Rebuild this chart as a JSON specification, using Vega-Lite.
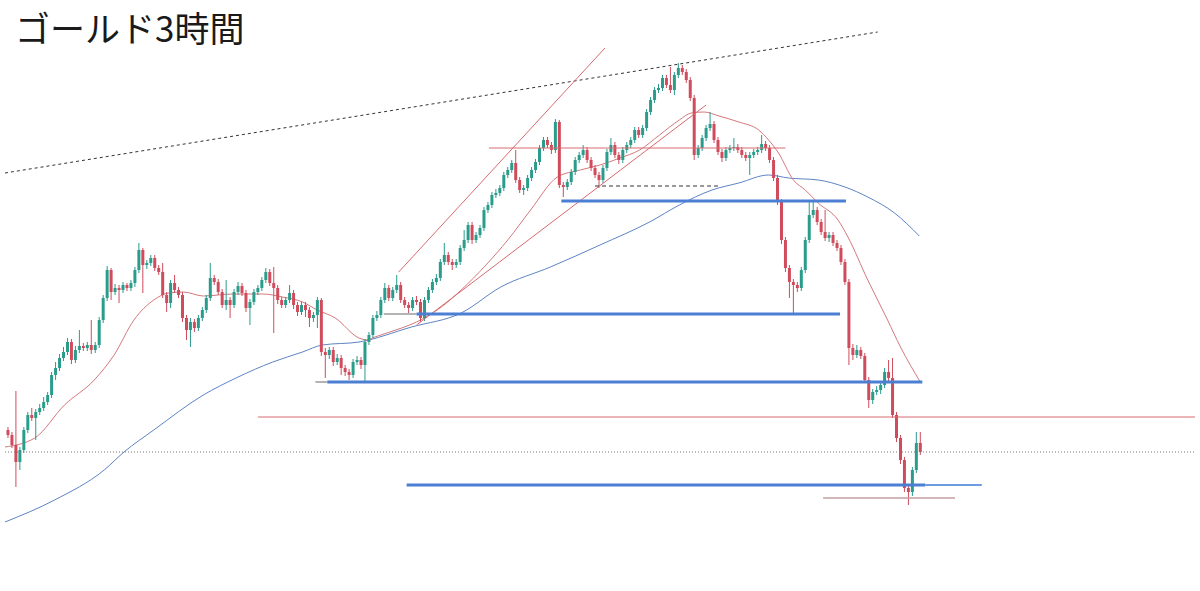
{
"$schema": "https://vega.github.io/schema/vega-lite/v6.json",
"width": 1200, "height": 591,
"autosize": {"type": "fit", "contains": "padding"},
"padding": 0,
"background": "#ffffff",
"config": {"view": {"stroke": null}},
"title": {"text": "ゴールド3時間", "anchor": "start", "orient": "top", "frame": "group", "offset": -49, "dx": 15, "fontSize": 35, "font": "Noto Sans CJK JP", "fontWeight": "normal", "color": "#1a1a1a"},
"datasets": {
"candles": [
{"t":0,"o":170,"c":165,"h":173,"l":162},{"t":1,"o":165,"c":155,"h":168,"l":152},{"t":2,"o":155,"c":138,"h":209,"l":113},{"t":3,"o":138,"c":150,"h":153,"l":130},{"t":4,"o":150,"c":170,"h":173,"l":147},{"t":5,"o":170,"c":185,"h":188,"l":167},{"t":6,"o":185,"c":182,"h":192,"l":179},{"t":7,"o":182,"c":188,"h":191,"l":160},{"t":8,"o":188,"c":192,"h":196,"l":185},{"t":9,"o":192,"c":198,"h":203,"l":189},
{"t":10,"o":198,"c":205,"h":208,"l":195},{"t":11,"o":205,"c":225,"h":228,"l":202},{"t":12,"o":225,"c":232,"h":238,"l":220},{"t":13,"o":232,"c":242,"h":246,"l":229},{"t":14,"o":242,"c":248,"h":253,"l":239},{"t":15,"o":248,"c":258,"h":262,"l":245},{"t":16,"o":258,"c":240,"h":261,"l":236},{"t":17,"o":240,"c":250,"h":254,"l":237},{"t":18,"o":250,"c":254,"h":270,"l":247},{"t":19,"o":254,"c":252,"h":257,"l":249},
{"t":20,"o":252,"c":255,"h":258,"l":249},{"t":21,"o":255,"c":250,"h":280,"l":246},{"t":22,"o":250,"c":255,"h":258,"l":247},{"t":23,"o":255,"c":280,"h":283,"l":252},{"t":24,"o":280,"c":302,"h":305,"l":277},{"t":25,"o":302,"c":330,"h":334,"l":299},{"t":26,"o":330,"c":308,"h":332,"l":300},{"t":27,"o":308,"c":312,"h":316,"l":305},{"t":28,"o":312,"c":310,"h":315,"l":297},{"t":29,"o":310,"c":315,"h":318,"l":307},
{"t":30,"o":315,"c":312,"h":317,"l":309},{"t":31,"o":312,"c":317,"h":320,"l":309},{"t":32,"o":317,"c":330,"h":333,"l":313},{"t":33,"o":330,"c":350,"h":357,"l":327},{"t":34,"o":350,"c":335,"h":352,"l":307},{"t":35,"o":335,"c":337,"h":340,"l":331},{"t":36,"o":337,"c":342,"h":345,"l":334},{"t":37,"o":342,"c":332,"h":345,"l":329},{"t":38,"o":332,"c":328,"h":335,"l":325},{"t":39,"o":328,"c":305,"h":337,"l":302},
{"t":40,"o":305,"c":297,"h":308,"l":288},{"t":41,"o":297,"c":317,"h":320,"l":292},{"t":42,"o":317,"c":310,"h":325,"l":307},{"t":43,"o":310,"c":305,"h":313,"l":302},{"t":44,"o":305,"c":282,"h":308,"l":278},{"t":45,"o":282,"c":270,"h":285,"l":260},{"t":46,"o":270,"c":278,"h":282,"l":253},{"t":47,"o":278,"c":272,"h":281,"l":268},{"t":48,"o":272,"c":282,"h":285,"l":269},{"t":49,"o":282,"c":290,"h":293,"l":279},
{"t":50,"o":290,"c":302,"h":305,"l":287},{"t":51,"o":302,"c":322,"h":337,"l":299},{"t":52,"o":322,"c":318,"h":325,"l":315},{"t":53,"o":318,"c":308,"h":321,"l":305},{"t":54,"o":308,"c":295,"h":311,"l":292},{"t":55,"o":295,"c":300,"h":320,"l":290},{"t":56,"o":300,"c":295,"h":303,"l":282},{"t":57,"o":295,"c":308,"h":311,"l":292},{"t":58,"o":308,"c":314,"h":318,"l":305},{"t":59,"o":314,"c":307,"h":317,"l":304},
{"t":60,"o":307,"c":292,"h":310,"l":288},{"t":61,"o":292,"c":298,"h":301,"l":275},{"t":62,"o":298,"c":308,"h":311,"l":295},{"t":63,"o":308,"c":312,"h":315,"l":305},{"t":64,"o":312,"c":320,"h":323,"l":309},{"t":65,"o":320,"c":328,"h":332,"l":317},{"t":66,"o":328,"c":317,"h":331,"l":314},{"t":67,"o":317,"c":312,"h":333,"l":267},{"t":68,"o":312,"c":300,"h":315,"l":296},{"t":69,"o":300,"c":295,"h":303,"l":292},
{"t":70,"o":295,"c":300,"h":303,"l":292},{"t":71,"o":300,"c":307,"h":315,"l":297},{"t":72,"o":307,"c":295,"h":310,"l":291},{"t":73,"o":295,"c":288,"h":298,"l":284},{"t":74,"o":288,"c":295,"h":298,"l":285},{"t":75,"o":295,"c":290,"h":298,"l":283},{"t":76,"o":290,"c":282,"h":293,"l":273},{"t":77,"o":282,"c":285,"h":288,"l":278},{"t":78,"o":285,"c":300,"h":303,"l":272},{"t":79,"o":300,"c":248,"h":302,"l":244},
{"t":80,"o":248,"c":245,"h":252,"l":222},{"t":81,"o":245,"c":250,"h":253,"l":241},{"t":82,"o":250,"c":238,"h":253,"l":234},{"t":83,"o":238,"c":242,"h":246,"l":235},{"t":84,"o":242,"c":232,"h":245,"l":225},{"t":85,"o":232,"c":228,"h":235,"l":224},{"t":86,"o":228,"c":225,"h":231,"l":220},{"t":87,"o":225,"c":238,"h":241,"l":222},{"t":88,"o":238,"c":240,"h":244,"l":235},{"t":89,"o":240,"c":235,"h":243,"l":231},
{"t":90,"o":235,"c":258,"h":261,"l":219},{"t":91,"o":258,"c":265,"h":268,"l":255},{"t":92,"o":265,"c":282,"h":285,"l":262},{"t":93,"o":282,"c":285,"h":289,"l":279},{"t":94,"o":285,"c":300,"h":303,"l":282},{"t":95,"o":300,"c":312,"h":317,"l":297},{"t":96,"o":312,"c":302,"h":315,"l":299},{"t":97,"o":302,"c":310,"h":313,"l":299},{"t":98,"o":310,"c":315,"h":325,"l":307},{"t":99,"o":315,"c":300,"h":318,"l":297},
{"t":100,"o":300,"c":295,"h":303,"l":292},{"t":101,"o":295,"c":292,"h":298,"l":287},{"t":102,"o":292,"c":300,"h":303,"l":289},{"t":103,"o":300,"c":298,"h":304,"l":295},{"t":104,"o":298,"c":282,"h":301,"l":278},{"t":105,"o":282,"c":300,"h":303,"l":279},{"t":106,"o":300,"c":310,"h":313,"l":297},{"t":107,"o":310,"c":318,"h":321,"l":307},{"t":108,"o":318,"c":322,"h":326,"l":315},{"t":109,"o":322,"c":338,"h":341,"l":319},
{"t":110,"o":338,"c":345,"h":357,"l":335},{"t":111,"o":345,"c":338,"h":348,"l":335},{"t":112,"o":338,"c":335,"h":341,"l":330},{"t":113,"o":335,"c":338,"h":341,"l":332},{"t":114,"o":338,"c":352,"h":355,"l":335},{"t":115,"o":352,"c":360,"h":370,"l":349},{"t":116,"o":360,"c":375,"h":378,"l":357},{"t":117,"o":375,"c":360,"h":378,"l":356},{"t":118,"o":360,"c":365,"h":368,"l":357},{"t":119,"o":365,"c":372,"h":375,"l":362},
{"t":120,"o":372,"c":390,"h":393,"l":369},{"t":121,"o":390,"c":395,"h":398,"l":387},{"t":122,"o":395,"c":405,"h":408,"l":392},{"t":123,"o":405,"c":407,"h":411,"l":402},{"t":124,"o":407,"c":412,"h":415,"l":404},{"t":125,"o":412,"c":425,"h":428,"l":409},{"t":126,"o":425,"c":430,"h":433,"l":422},{"t":127,"o":430,"c":437,"h":440,"l":427},{"t":128,"o":437,"c":420,"h":450,"l":417},{"t":129,"o":420,"c":410,"h":423,"l":407},
{"t":130,"o":410,"c":412,"h":415,"l":405},{"t":131,"o":412,"c":422,"h":425,"l":409},{"t":132,"o":422,"c":430,"h":433,"l":419},{"t":133,"o":430,"c":438,"h":441,"l":427},{"t":134,"o":438,"c":452,"h":455,"l":435},{"t":135,"o":452,"c":460,"h":463,"l":449},{"t":136,"o":460,"c":455,"h":463,"l":452},{"t":137,"o":455,"c":450,"h":458,"l":446},{"t":138,"o":450,"c":478,"h":481,"l":447},{"t":139,"o":478,"c":415,"h":480,"l":412},
{"t":140,"o":415,"c":413,"h":418,"l":403},{"t":141,"o":413,"c":418,"h":421,"l":410},{"t":142,"o":418,"c":428,"h":431,"l":415},{"t":143,"o":428,"c":440,"h":443,"l":425},{"t":144,"o":440,"c":445,"h":448,"l":437},{"t":145,"o":445,"c":450,"h":455,"l":442},{"t":146,"o":450,"c":440,"h":453,"l":437},{"t":147,"o":440,"c":432,"h":443,"l":429},{"t":148,"o":432,"c":425,"h":435,"l":422},{"t":149,"o":425,"c":420,"h":428,"l":412},
{"t":150,"o":420,"c":432,"h":435,"l":417},{"t":151,"o":432,"c":448,"h":451,"l":429},{"t":152,"o":448,"c":455,"h":462,"l":445},{"t":153,"o":455,"c":445,"h":458,"l":442},{"t":154,"o":445,"c":440,"h":448,"l":436},{"t":155,"o":440,"c":450,"h":453,"l":437},{"t":156,"o":450,"c":455,"h":458,"l":447},{"t":157,"o":455,"c":460,"h":463,"l":452},{"t":158,"o":460,"c":470,"h":473,"l":457},{"t":159,"o":470,"c":465,"h":473,"l":462},
{"t":160,"o":465,"c":472,"h":475,"l":462},{"t":161,"o":472,"c":488,"h":491,"l":469},{"t":162,"o":488,"c":500,"h":503,"l":485},{"t":163,"o":500,"c":510,"h":513,"l":497},{"t":164,"o":510,"c":512,"h":516,"l":507},{"t":165,"o":512,"c":522,"h":525,"l":509},{"t":166,"o":522,"c":515,"h":525,"l":512},{"t":167,"o":515,"c":510,"h":533,"l":507},{"t":168,"o":510,"c":525,"h":528,"l":505},{"t":169,"o":525,"c":532,"h":537,"l":522},
{"t":170,"o":532,"c":528,"h":535,"l":525},{"t":171,"o":528,"c":520,"h":531,"l":517},{"t":172,"o":520,"c":502,"h":523,"l":499},{"t":173,"o":502,"c":445,"h":505,"l":440},{"t":174,"o":445,"c":452,"h":455,"l":442},{"t":175,"o":452,"c":462,"h":465,"l":449},{"t":176,"o":462,"c":472,"h":475,"l":459},{"t":177,"o":472,"c":476,"h":488,"l":469},{"t":178,"o":476,"c":460,"h":479,"l":457},{"t":179,"o":460,"c":448,"h":463,"l":445},
{"t":180,"o":448,"c":442,"h":451,"l":438},{"t":181,"o":442,"c":450,"h":453,"l":439},{"t":182,"o":450,"c":452,"h":455,"l":447},{"t":183,"o":452,"c":453,"h":462,"l":449},{"t":184,"o":453,"c":450,"h":456,"l":447},{"t":185,"o":450,"c":445,"h":453,"l":442},{"t":186,"o":445,"c":442,"h":448,"l":439},{"t":187,"o":442,"c":445,"h":448,"l":425},{"t":188,"o":445,"c":448,"h":451,"l":442},{"t":189,"o":448,"c":450,"h":453,"l":445},
{"t":190,"o":450,"c":456,"h":465,"l":447},{"t":191,"o":456,"c":452,"h":459,"l":449},{"t":192,"o":452,"c":440,"h":455,"l":437},{"t":193,"o":440,"c":422,"h":443,"l":419},{"t":194,"o":422,"c":398,"h":425,"l":395},{"t":195,"o":398,"c":360,"h":401,"l":356},{"t":196,"o":360,"c":332,"h":363,"l":328},{"t":197,"o":332,"c":318,"h":335,"l":302},{"t":198,"o":318,"c":315,"h":321,"l":287},{"t":199,"o":315,"c":312,"h":318,"l":308},
{"t":200,"o":312,"c":330,"h":333,"l":309},{"t":201,"o":330,"c":360,"h":363,"l":327},{"t":202,"o":360,"c":385,"h":400,"l":357},{"t":203,"o":385,"c":390,"h":400,"l":382},{"t":204,"o":390,"c":378,"h":393,"l":375},{"t":205,"o":378,"c":368,"h":381,"l":365},{"t":206,"o":368,"c":362,"h":390,"l":359},{"t":207,"o":362,"c":365,"h":368,"l":358},{"t":208,"o":365,"c":357,"h":368,"l":354},{"t":209,"o":357,"c":352,"h":360,"l":349},
{"t":210,"o":352,"c":338,"h":355,"l":335},{"t":211,"o":338,"c":318,"h":341,"l":315},{"t":212,"o":318,"c":252,"h":321,"l":235},{"t":213,"o":252,"c":245,"h":256,"l":240},{"t":214,"o":245,"c":250,"h":255,"l":242},{"t":215,"o":250,"c":244,"h":253,"l":241},{"t":216,"o":244,"c":220,"h":247,"l":217},{"t":217,"o":220,"c":200,"h":223,"l":192},{"t":218,"o":200,"c":208,"h":211,"l":196},{"t":219,"o":208,"c":210,"h":214,"l":205},
{"t":220,"o":210,"c":215,"h":218,"l":206},{"t":221,"o":215,"c":228,"h":232,"l":212},{"t":222,"o":228,"c":222,"h":240,"l":219},{"t":223,"o":222,"c":185,"h":242,"l":182},{"t":224,"o":185,"c":162,"h":188,"l":158},{"t":225,"o":162,"c":140,"h":165,"l":136},{"t":226,"o":140,"c":112,"h":143,"l":108},{"t":227,"o":112,"c":108,"h":115,"l":95},{"t":228,"o":108,"c":130,"h":133,"l":104},{"t":229,"o":130,"c":157,"h":168,"l":127},
{"t":230,"o":157,"c":148,"h":168,"l":145}
],
"ma": [
{"s":"short","t":-0.75,"v":153},{"s":"short","t":6.75,"v":162},{"s":"short","t":14.25,"v":195},{"s":"short","t":21.75,"v":220},{"s":"short","t":26.75,"v":245},{"s":"short","t":31.75,"v":280},{"s":"short","t":36.75,"v":300},{"s":"short","t":40.5,"v":307},{"s":"short","t":44.25,"v":308},{"s":"short","t":49.25,"v":304},{"s":"short","t":56.75,"v":306},{"s":"short","t":64.25,"v":306},{"s":"short","t":69.25,"v":303},{"s":"short","t":74.25,"v":298},{"s":"short","t":78,"v":290},{"s":"short","t":82.5,"v":282},{"s":"short","t":88.5,"v":262},{"s":"short","t":90.5,"v":260},{"s":"short","t":92.5,"v":263},{"s":"short","t":99.25,"v":272},{"s":"short","t":103,"v":278},{"s":"short","t":109.25,"v":293},{"s":"short","t":114.25,"v":310},{"s":"short","t":120.5,"v":335},{"s":"short","t":126,"v":360},{"s":"short","t":131.75,"v":390},{"s":"short","t":138.5,"v":423},{"s":"short","t":144.25,"v":430},{"s":"short","t":149.25,"v":435},{"s":"short","t":154.25,"v":442},{"s":"short","t":159.25,"v":450},{"s":"short","t":164.25,"v":465},{"s":"short","t":169.25,"v":480},{"s":"short","t":172.25,"v":487},{"s":"short","t":175.5,"v":488},{"s":"short","t":179.25,"v":484},{"s":"short","t":184.25,"v":478},{"s":"short","t":189.25,"v":470},{"s":"short","t":191.75,"v":460},{"s":"short","t":194.25,"v":447},{"s":"short","t":198,"v":420},{"s":"short","t":201,"v":410},{"s":"short","t":204.25,"v":397},{"s":"short","t":209.25,"v":380},{"s":"short","t":211.75,"v":363},{"s":"short","t":216.75,"v":320},{"s":"short","t":221.75,"v":280},{"s":"short","t":225,"v":253},{"s":"short","t":230,"v":218},
{"s":"long","t":-0.75,"v":78},{"s":"long","t":11.75,"v":100},{"s":"long","t":24.25,"v":130},{"s":"long","t":29.25,"v":148},{"s":"long","t":36.75,"v":170},{"s":"long","t":49.25,"v":205},{"s":"long","t":57.5,"v":222},{"s":"long","t":66.75,"v":238},{"s":"long","t":74.25,"v":248},{"s":"long","t":79.25,"v":255},{"s":"long","t":88.5,"v":258},{"s":"long","t":101.75,"v":273},{"s":"long","t":114.25,"v":287},{"s":"long","t":124.25,"v":313},{"s":"long","t":136.75,"v":333},{"s":"long","t":149.25,"v":355},{"s":"long","t":161.75,"v":378},{"s":"long","t":169.25,"v":395},{"s":"long","t":177.5,"v":410},{"s":"long","t":184.25,"v":417},{"s":"long","t":191.75,"v":425},{"s":"long","t":196.75,"v":422},{"s":"long","t":204.25,"v":420},{"s":"long","t":211,"v":413},{"s":"long","t":216.75,"v":403},{"s":"long","t":223.5,"v":387},{"s":"long","t":229.75,"v":364}
],
"segs": [
{"k":"dotted","t1":-0.75,"v1":427,"t2":219.25,"v2":568},
{"k":"red","t1":98.5,"v1":328,"t2":150.5,"v2":552},
{"k":"red","t1":103,"v1":275,"t2":176,"v2":495},
{"k":"red","t1":121.25,"v1":452,"t2":196,"v2":452},
{"k":"red","t1":63,"v1":183,"t2":299.25,"v2":183},
{"k":"dashed","t1":148,"v1":414,"t2":179.75,"v2":414},
{"k":"blue","t1":139.5,"v1":399,"t2":211.25,"v2":399},
{"k":"blue","t1":103,"v1":286,"t2":209.75,"v2":286},
{"k":"blue","t1":80.5,"v1":218,"t2":230.5,"v2":218},
{"k":"blue","t1":100.5,"v1":115,"t2":231.25,"v2":115},
{"k":"bluethin","t1":231.25,"v1":115,"t2":245.5,"v2":115},
{"k":"gray","t1":77.5,"v1":218,"t2":80.5,"v2":218},
{"k":"gray","t1":94.75,"v1":286,"t2":103,"v2":286},
{"k":"dotgray","t1":-0.75,"v1":148,"t2":299.25,"v2":148},
{"k":"brown","t1":205.5,"v1":102,"t2":238.75,"v2":102}
]
},
"encoding": {
"x": {"field": "t", "type": "quantitative", "scale": {"domain": [-0.75, 299.25], "nice": false, "zero": false}, "axis": null},
"y": {"field": "v", "type": "quantitative", "scale": {"domain": [9, 600], "nice": false, "zero": false}, "axis": null}
},
"layer": [
{
"data": {"name": "ma"},
"transform": [{"filter": "datum.s == 'long'"}],
"mark": {"type": "line", "strokeWidth": 1, "interpolate": "monotone", "color": "#5d84c4"},
"encoding": {"x": {"field": "t", "type": "quantitative"}, "y": {"field": "v", "type": "quantitative"}}
},
{
"data": {"name": "ma"},
"transform": [{"filter": "datum.s == 'short'"}],
"mark": {"type": "line", "strokeWidth": 1, "interpolate": "monotone", "color": "#d4787c"},
"encoding": {"x": {"field": "t", "type": "quantitative"}, "y": {"field": "v", "type": "quantitative"}}
},
{
"data": {"name": "candles"},
"mark": {"type": "rule", "strokeWidth": 1},
"encoding": {
"x": {"field": "t", "type": "quantitative"},
"y": {"field": "l", "type": "quantitative"},
"y2": {"field": "h"},
"color": {"condition": {"test": "datum.c >= datum.o", "value": "#2a9c8c"}, "value": "#d04c5c"}
}
},
{
"data": {"name": "candles"},
"mark": {"type": "bar", "width": 3},
"encoding": {
"x": {"field": "t", "type": "quantitative"},
"y": {"field": "o", "type": "quantitative"},
"y2": {"field": "c"},
"color": {"condition": {"test": "datum.c >= datum.o", "value": "#2a9c8c"}, "value": "#d04c5c"}
}
},
{
"data": {"name": "segs"},
"transform": [{"filter": "datum.k == 'dotted'"}],
"mark": {"type": "rule", "color": "#333333", "strokeWidth": 1, "strokeDash": [3, 3]},
"encoding": {"x": {"field": "t1", "type": "quantitative"}, "x2": {"field": "t2"}, "y": {"field": "v1", "type": "quantitative"}, "y2": {"field": "v2"}}
},
{
"data": {"name": "segs"},
"transform": [{"filter": "datum.k == 'red'"}],
"mark": {"type": "rule", "color": "#d86a6e", "strokeWidth": 1},
"encoding": {"x": {"field": "t1", "type": "quantitative"}, "x2": {"field": "t2"}, "y": {"field": "v1", "type": "quantitative"}, "y2": {"field": "v2"}}
},
{
"data": {"name": "segs"},
"transform": [{"filter": "datum.k == 'dashed'"}],
"mark": {"type": "rule", "color": "#333333", "strokeWidth": 1.2, "strokeDash": [4, 3]},
"encoding": {"x": {"field": "t1", "type": "quantitative"}, "x2": {"field": "t2"}, "y": {"field": "v1", "type": "quantitative"}, "y2": {"field": "v2"}}
},
{
"data": {"name": "segs"},
"transform": [{"filter": "datum.k == 'gray'"}],
"mark": {"type": "rule", "color": "#9a9a9a", "strokeWidth": 1.5},
"encoding": {"x": {"field": "t1", "type": "quantitative"}, "x2": {"field": "t2"}, "y": {"field": "v1", "type": "quantitative"}, "y2": {"field": "v2"}}
},
{
"data": {"name": "segs"},
"transform": [{"filter": "datum.k == 'dotgray'"}],
"mark": {"type": "rule", "color": "#777777", "strokeWidth": 1, "strokeDash": [1, 2]},
"encoding": {"x": {"field": "t1", "type": "quantitative"}, "x2": {"field": "t2"}, "y": {"field": "v1", "type": "quantitative"}, "y2": {"field": "v2"}}
},
{
"data": {"name": "segs"},
"transform": [{"filter": "datum.k == 'brown'"}],
"mark": {"type": "rule", "color": "#c49ea0", "strokeWidth": 1.5},
"encoding": {"x": {"field": "t1", "type": "quantitative"}, "x2": {"field": "t2"}, "y": {"field": "v1", "type": "quantitative"}, "y2": {"field": "v2"}}
},
{
"data": {"name": "segs"},
"transform": [{"filter": "datum.k == 'bluethin'"}],
"mark": {"type": "rule", "color": "#6d9be0", "strokeWidth": 2},
"encoding": {"x": {"field": "t1", "type": "quantitative"}, "x2": {"field": "t2"}, "y": {"field": "v1", "type": "quantitative"}, "y2": {"field": "v2"}}
},
{
"data": {"name": "segs"},
"transform": [{"filter": "datum.k == 'blue'"}],
"mark": {"type": "rule", "color": "#4a7fd4", "strokeWidth": 3},
"encoding": {"x": {"field": "t1", "type": "quantitative"}, "x2": {"field": "t2"}, "y": {"field": "v1", "type": "quantitative"}, "y2": {"field": "v2"}}
}
]
}
